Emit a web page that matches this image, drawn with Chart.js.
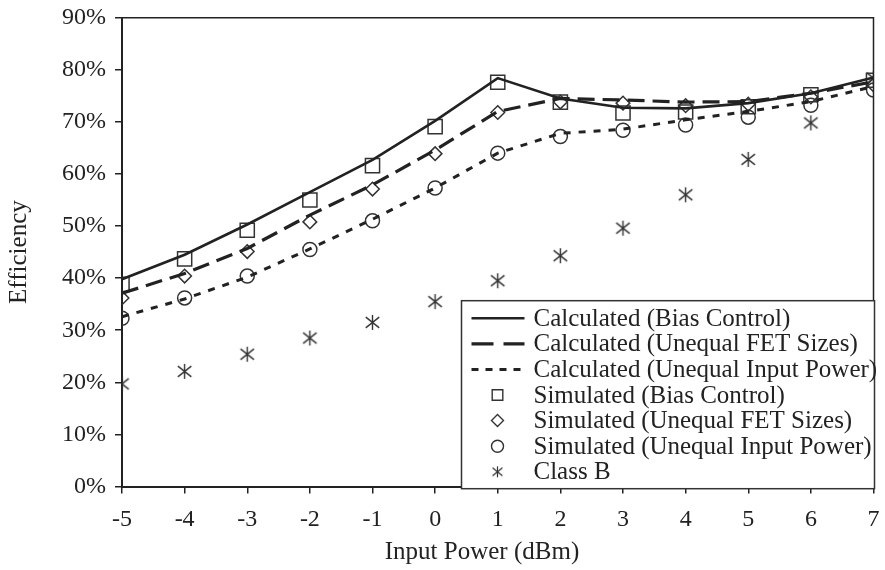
<!DOCTYPE html>
<html>
<head>
<meta charset="utf-8">
<script src="https://cdn.jsdelivr.net/npm/chart.js@4.4.1/dist/chart.umd.min.js"></script>
<style>
  html, body { margin: 0; padding: 0; background: #fff; }
  #wrap { width: 885px; height: 570px; }
</style>
</head>
<body>
<div id="wrap"><canvas id="c" width="885" height="570"></canvas></div>
<script>
// ---- data ----
const inputPower = [-5, -4, -3, -2, -1, 0, 1, 2, 3, 4, 5, 6, 7];
const calcBiasControl   = [39.8, 44.5, 50.3, 56.5, 62.7, 70.2, 78.4, 74.5, 72.7, 72.6, 73.6, 75.5, 78.5];
const calcUnequalFet    = [37.1, 40.9, 45.7, 52.1, 57.9, 64.6, 72.0, 74.5, 74.2, 73.8, 73.9, 75.5, 77.7];
const calcUnequalInput  = [32.6, 36.0, 40.2, 45.6, 51.3, 57.3, 64.0, 67.8, 68.6, 70.4, 72.0, 73.9, 76.8];
const simBiasControl    = [38.8, 43.7, 49.2, 55.0, 61.6, 69.1, 77.6, 73.8, 71.7, 71.9, 72.9, 75.2, 78.0];
const simUnequalFet     = [36.2, 40.4, 45.1, 50.8, 57.1, 63.9, 71.8, 73.8, 73.6, 73.1, 73.4, 74.8, 77.1];
const simUnequalInput   = [32.3, 36.2, 40.4, 45.5, 51.0, 57.3, 64.0, 67.2, 68.4, 69.4, 70.9, 73.2, 76.1];
const classB            = [19.7, 22.1, 25.4, 28.5, 31.5, 35.5, 39.5, 44.3, 49.6, 56.0, 62.8, 69.8, 78.4];
const yTicks = [0, 10, 20, 30, 40, 50, 60, 70, 80, 90];
const xTitle = 'Input Power (dBm)';
const yTitle = 'Efficiency';

const FONT = '"Liberation Serif", "Times New Roman", serif';
const INK = '#222';
const MARK = '#333';

function pts(arr) { return inputPower.map((x, i) => ({ x: x, y: arr[i] })); }

// six-spoke asterisk marker (vertical bar + X)
function makeAsterisk(size, lw) {
  const cv = document.createElement('canvas');
  cv.width = size; cv.height = size;
  const g = cv.getContext('2d');
  const c = size / 2, r = size / 2 - 1;
  g.strokeStyle = MARK; g.lineWidth = lw;
  g.beginPath();
  g.moveTo(c, c - r); g.lineTo(c, c + r);
  const dx = r * 0.9, dy = r * 0.72;
  g.moveTo(c - dx, c - dy); g.lineTo(c + dx, c + dy);
  g.moveTo(c - dx, c + dy); g.lineTo(c + dx, c - dy);
  g.stroke();
  return cv;
}
const asterisk = makeAsterisk(17, 1.4);
const asteriskSmall = makeAsterisk(13, 1.2);

const lineBase = { showLine: true, pointRadius: 0, tension: 0, borderColor: INK, backgroundColor: INK, fill: false };
const markBase = { showLine: false, borderColor: MARK, backgroundColor: 'rgba(0,0,0,0)', pointBorderWidth: 1.5 };

const datasets = [
  Object.assign({}, lineBase, { label: 'Calculated (Bias Control)', data: pts(calcBiasControl), borderWidth: 2.6, borderDash: [], legendDash: [] }),
  Object.assign({}, lineBase, { label: 'Calculated (Unequal FET Sizes)', data: pts(calcUnequalFet), borderWidth: 3.2, borderDash: [17, 8], legendDash: [22, 10] }),
  Object.assign({}, lineBase, { label: 'Calculated (Unequal Input Power)', data: pts(calcUnequalInput), borderWidth: 3, borderDash: [7, 8], legendDash: [7, 7] }),
  Object.assign({}, markBase, { label: 'Simulated (Bias Control)', data: pts(simBiasControl), pointStyle: 'rect', pointRadius: 10, legendStyle: 'rect', legendRadius: 7.5 }),
  Object.assign({}, markBase, { label: 'Simulated (Unequal FET Sizes)', data: pts(simUnequalFet), pointStyle: 'rectRot', pointRadius: 6.8, legendStyle: 'rectRot', legendRadius: 6 }),
  Object.assign({}, markBase, { label: 'Simulated (Unequal Input Power)', data: pts(simUnequalInput), pointStyle: 'circle', pointRadius: 7, legendStyle: 'circle', legendRadius: 6 }),
  Object.assign({}, markBase, { label: 'Class B', data: pts(classB), pointStyle: asterisk, pointRadius: 8, legendStyle: 'asterisk' })
];

const framePlugin = {
  id: 'frameAndLegend',
  afterDatasetsDraw(chart) {
    const ctx = chart.ctx, a = chart.chartArea;
    ctx.save();
    // top and right border
    ctx.strokeStyle = INK; ctx.lineWidth = 1.5;
    ctx.beginPath();
    ctx.moveTo(a.left, a.top); ctx.lineTo(a.right, a.top); ctx.lineTo(a.right, a.bottom);
    ctx.stroke();

    // legend box
    const bx = a.right - 412, by = a.top + 283, bw = 413, bh = 188;
    ctx.fillStyle = '#fff';
    ctx.fillRect(bx, by, bw, bh);
    ctx.strokeStyle = '#333'; ctx.lineWidth = 1.5;
    ctx.strokeRect(bx, by, bw, bh);

    const sx = bx + 36;      // symbol centre
    const tx = bx + 72;      // text start
    const row0 = by + 17.5, step = 25.6;
    ctx.font = '25px ' + FONT;
    ctx.fillStyle = INK;
    ctx.textBaseline = 'middle';
    ctx.textAlign = 'left';
    chart.data.datasets.forEach((ds, i) => {
      const y = row0 + i * step;
      if (ds.showLine) {
        ctx.save();
        ctx.strokeStyle = INK; ctx.lineWidth = ds.borderWidth;
        ctx.setLineDash(ds.legendDash);
        ctx.beginPath(); ctx.moveTo(sx - 26, y); ctx.lineTo(sx + 27, y); ctx.stroke();
        ctx.restore();
      } else if (ds.legendStyle === 'asterisk') {
        ctx.drawImage(asteriskSmall, sx - 6.5, y - 6.5);
      } else {
        ctx.save();
        ctx.strokeStyle = MARK; ctx.lineWidth = 1.4; ctx.fillStyle = 'rgba(0,0,0,0)';
        Chart.helpers.drawPoint(ctx, { pointStyle: ds.legendStyle, radius: ds.legendRadius, borderWidth: 1.4 }, sx, y);
        ctx.restore();
      }
      ctx.fillStyle = INK;
      ctx.fillText(ds.label, tx, y + 1);
    });

    // x axis title
    ctx.textAlign = 'center';
    ctx.fillText(xTitle, 482, 552);
    ctx.restore();
  }
};

new Chart(document.getElementById('c'), {
  type: 'line',
  data: { datasets: datasets },
  options: {
    responsive: false,
    devicePixelRatio: 1,
    animation: false,
    layout: { padding: { left: 0, top: 17.7, right: 0.5, bottom: 0 } },
    plugins: { legend: { display: false }, tooltip: { enabled: false } },
    scales: {
      x: {
        type: 'linear', min: -5, max: 7,
        afterFit(s) { s.height = 83.5; s.paddingLeft = 0; s.paddingRight = 0; },
        afterBuildTicks(s) { s.ticks = inputPower.map(v => ({ value: v })); },
        ticks: { color: INK, font: { family: FONT, size: 24 }, padding: 12, maxRotation: 0, autoSkip: false },
        grid: { display: true, drawOnChartArea: false, drawTicks: true, tickLength: 7, color: INK, lineWidth: 1.5 },
        border: { display: true, color: INK, width: 2 }
      },
      y: {
        min: 0, max: 90,
        afterFit(s) { s.width = 122; s.paddingTop = 0; s.paddingBottom = 0; },
        afterBuildTicks(s) { s.ticks = yTicks.map(v => ({ value: v })); },
        ticks: { color: INK, font: { family: FONT, size: 24 }, padding: 9, callback: v => v + '%' },
        grid: { display: true, drawOnChartArea: false, drawTicks: true, tickLength: 7, color: INK, lineWidth: 1.5 },
        border: { display: true, color: INK, width: 2 },
        title: { display: true, text: yTitle, color: INK, font: { family: FONT, size: 25 }, padding: { top: 4, bottom: 0 } }
      }
    }
  },
  plugins: [framePlugin]
});
</script>
</body>
</html>
